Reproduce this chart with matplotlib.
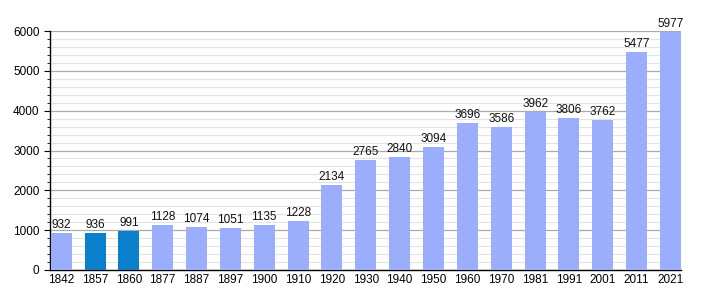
import matplotlib.pyplot as plt
import numpy as np

plt.rcParams['font.family'] = ['Liberation Sans', 'DejaVu Sans']

years = ["1842", "1857", "1860", "1877", "1887", "1897", "1900", "1910", "1920", "1930",
         "1940", "1950", "1960", "1970", "1981", "1991", "2001", "2011", "2021"]
population = [932, 936, 991, 1128, 1074, 1051, 1135, 1228, 2134, 2765,
              2840, 3094, 3696, 3586, 3962, 3806, 3762, 5477, 5977]
highlighted = ["1857", "1860"]

light = "#9aaefc"
dark = "#0a7fcc"

fig = plt.figure(figsize=(7.1, 3.0), dpi=100)
ax = fig.add_axes([50 / 710, 30 / 300, 631 / 710, 239 / 300])

x = np.arange(len(years))
colors = [dark if y in highlighted else light for y in years]
ax.bar(x, population, width=0.62, color=colors, zorder=3)

# value above each bar
for xi, v in zip(x, population):
    ax.text(xi, v + 50, str(v), ha="center", va="bottom", fontsize=8.5, color="#111111", zorder=4)

ax.set_xlim(-0.33, len(years) - 1 + 0.31)
ax.set_ylim(0, 6000)
ax.set_xticks(x)
ax.set_xticklabels(years, fontsize=8.5)
ax.set_yticks(np.arange(0, 6001, 1000))
ax.set_yticks(np.arange(0, 6001, 200), minor=True)
ax.tick_params(axis="y", labelsize=8.5, length=4, width=0.8)
ax.tick_params(axis="y", which="minor", length=2, width=0.6)
ax.tick_params(axis="x", length=0, pad=3)

ax.grid(axis="y", which="major", color="#aaaaaa", linewidth=0.9, zorder=0)
ax.grid(axis="y", which="minor", color="#e3e3e3", linewidth=0.8, zorder=0)

for s in ["top", "right"]:
    ax.spines[s].set_visible(False)
ax.spines["left"].set_linewidth(1)
ax.spines["bottom"].set_linewidth(1)

fig.savefig("out.png", dpi=100)
